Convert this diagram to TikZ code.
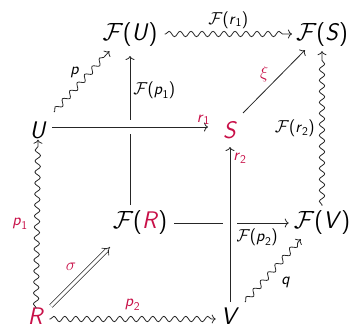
\documentclass[tikz,border=0pt]{standalone}
\usepackage{amsmath}
\usepackage{fontspec}
\usetikzlibrary{decorations.pathmorphing,arrows.meta,calc}
\definecolor{crim}{RGB}{200,16,72}
\newcommand{\vv}[1]{\textsf{\textit{#1}}}
\newcommand{\Fc}{$\mathcal{F}$}
\newcommand{\pr}[1]{\textsf{(}#1\textsf{)}}
\newcommand{\sbx}[2]{$\vv{#1}_{\textsf{#2}}$}
\tikzset{
  obj/.style={font=\fontsize{24}{28}\selectfont, inner sep=1pt},
  lab/.style={font=\fontsize{17}{20}\selectfont, inner sep=1pt},
  arr/.style={draw=black!85, line width=0.8pt, -{To[length=4pt,width=9pt]}},
  sq/.style={arr, decorate, decoration={snake, amplitude=2.7pt, segment length=11pt, pre length=1pt, post length=4pt}},
  gap/.style={draw=white, line width=14pt}
}
\begin{document}
\begin{tikzpicture}[x=1pt,y=-1pt]
\useasboundingbox (0,0) rectangle (352,329);
\node[obj] (FU) at (130,35) {\Fc\pr{\vv{U}}};
\node[obj] (FS) at (322,35) {\Fc\pr{\vv{S}}};
\node[obj] (U) at (38,130) {\vv{U}};
\node[obj,text=crim] (S) at (230,130) {\vv{S}};
\node[obj] (FR) at (140,223) {\Fc\pr{\textcolor{crim}{\vv{R}}}};
\node[obj] (FV) at (322,223) {\Fc\pr{\vv{V}}};
\node[obj,text=crim] (R) at (36,316) {\vv{R}};
\node[obj] (V) at (230,316) {\vv{V}};
\coordinate (FUb) at (130,56);
\coordinate (FRt) at (130,205);
\coordinate (Ue) at (52,127);
\coordinate (Sw) at (208,127);
\coordinate (Vn) at (230,302);
\coordinate (Ss) at (230,147);
% back vertical F(R)->F(U)
\draw[arr] (FRt) -- node[lab, right=2pt, pos=0.77] {\Fc\pr{\sbx{p}{1}}} (FUb);
% U -> S crossing over
\draw[gap] (Ue) -- (Sw);
\draw[arr] (Ue) -- node[lab, above=1pt, pos=0.97, text=crim] {\sbx{r}{1}} (Sw);
% F(R) -> F(V)
\draw[arr] ($(FR.east)+(6,0)$) -- node[lab, below=4pt, pos=0.72] {\Fc\pr{\sbx{p}{2}}} ($(FV.west)+(-4,0)$);
% V -> S crossing over
\draw[gap] (Vn) -- (Ss);
\draw[arr] (Vn) -- node[lab, pos=0.97, anchor=north west, xshift=2pt, text=crim] {\sbx{r}{2}} (Ss);
% top squiggle
\draw[sq] ($(FU.east)+(6,-1)$) -- node[lab, above=4pt] {\Fc\pr{\sbx{r}{1}}} ($(FS.west)+(-3,-1)$);
% S -> F(S)
\draw[arr] (243,113) -- node[lab, above left=1pt, pos=0.45, text=crim] {$\xi$} ($(FS.south west)+(10,2)$);
% F(V) -> F(S)
\draw[sq] ($(FV.north)+(0,-4)$) -- node[lab, left=6pt] {\Fc\pr{\sbx{r}{2}}} ($(FS.south)+(0,3)$);
% U -> F(U)
\draw[sq] (54,112) -- node[lab, above left=2pt, xshift=1pt] {\vv{p}} ($(FU.south west)+(8,3)$);
% V -> F(V)
\draw[sq] (245,302) -- node[lab, below right=5pt, xshift=2pt] {\vv{q}} ($(FV.south west)+(8,3)$);
% R -> U
\draw[sq] ($(R.north)+(0,2)$) -- node[lab, left=8pt, text=crim] {\sbx{p}{1}} (U.south);
% R -> V
\draw[sq] ($(R.east)+(4,3)$) -- node[lab, above=7pt, text=crim] {\sbx{p}{2}} ($(V.west)+(-4,3)$);
% R => F(R)
\draw[double, double distance=3pt, line width=0.7pt, draw=black!85, -{Implies}] (51,306) -- node[lab, above left=3pt, yshift=2pt, text=crim] {$\sigma$} (110,247);
\end{tikzpicture}
\end{document}
